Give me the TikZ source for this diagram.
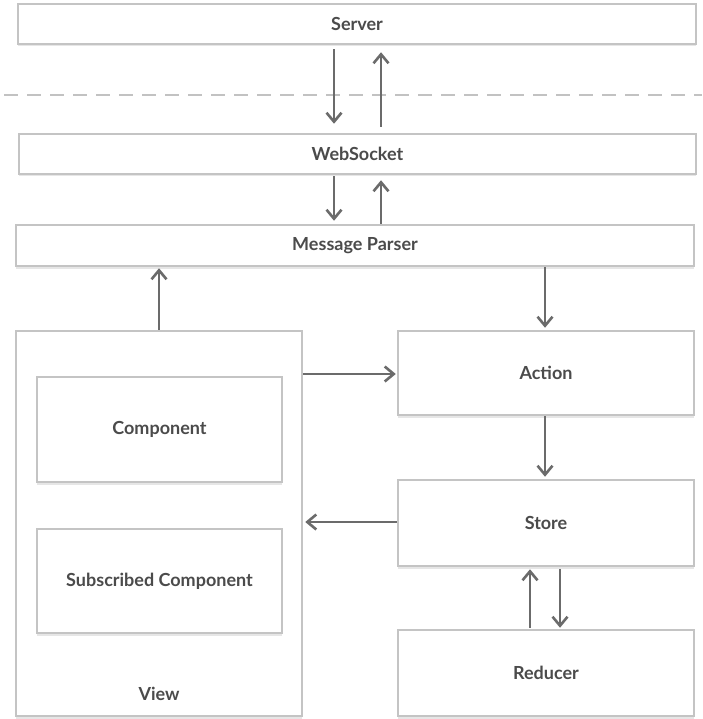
\documentclass[tikz,border=0pt]{standalone}
\usepackage{fontspec}
\setmainfont{Lato}
\usetikzlibrary{arrows.meta,shadows}

\definecolor{boxgray}{HTML}{C4C4C4}
\definecolor{shadowgray}{HTML}{E6E6E6}
\definecolor{arrowgray}{HTML}{6B6B6B}
\definecolor{dashgray}{HTML}{C2C2C2}
\definecolor{textgray}{HTML}{4B4B4B}

\tikzset{
  box/.style={draw=boxgray, line width=2.5pt, fill=white, inner sep=0pt,
    text=textgray, font=\fontsize{18}{21}\selectfont\bfseries,
    general shadow={shadow xshift=0pt, shadow yshift=-2.5pt, fill=shadowgray}},
  plainlabel/.style={inner sep=0pt, text=textgray, font=\fontsize{18}{21}\selectfont\bfseries},
  arr/.style={draw=arrowgray, line width=2.6pt,
    -{Straight Barb[length=9pt,width=15pt,line width=2.6pt]}},
  separator/.style={draw=dashgray, line width=2.5pt, dash pattern=on 14pt off 9pt}
}

\begin{document}
\begin{tikzpicture}[x=1pt,y=-1pt]
  \useasboundingbox[fill=white] (0,0) rectangle (702,719);

  % network boundary
  \draw[separator] (4,95) -- (702,95);

  % top layers
  \node[box, minimum width=678pt, minimum height=40pt] (server) at (357,24) {Server};
  \node[box, minimum width=677pt, minimum height=40pt] (ws) at (357.5,154) {WebSocket};
  \node[box, minimum width=678pt, minimum height=41pt] (mp) at (355,245.5) {Message Parser};

  % view with its components
  \node[box, minimum width=286pt, minimum height=385pt] (view) at (159,523.5) {};
  \node[plainlabel] (viewlabel) at (159,694) {View};
  \node[box, minimum width=245pt, minimum height=105pt] (comp) at (159.5,429.5) {Component};
  \node[box, minimum width=245pt, minimum height=104pt] (subcomp) at (159.5,581) {Subscribed Component};

  % redux side
  \node[box, minimum width=296pt, minimum height=84pt] (action) at (546,373) {Action};
  \node[box, minimum width=296pt, minimum height=86pt] (store) at (546,523) {Store};
  \node[box, minimum width=296pt, minimum height=86pt] (reducer) at (546,673) {Reducer};

  % lanes for the vertical connectors
  \coordinate (laneA) at (334,0);
  \coordinate (laneB) at (381,0);
  \coordinate (laneV) at (159,0);
  \coordinate (laneM) at (545,0);
  \coordinate (laneU) at (530,0);
  \coordinate (laneD) at (560,0);
  \coordinate (rowA) at (0,374);
  \coordinate (rowS) at (0,522);

  % server <-> websocket
  \draw[arr, shorten <=4pt, shorten >=9pt] (server.south -| laneA) -- (ws.north -| laneA);
  \draw[arr, shorten <=6pt, shorten >=7pt] (ws.north -| laneB) -- (server.south -| laneB);

  % websocket <-> message parser
  \draw[arr, shorten <=1pt, shorten >=3pt] (ws.south -| laneA) -- (mp.north -| laneA);
  \draw[arr, shorten >=5pt] (mp.north -| laneB) -- (ws.south -| laneB);

  % view -> message parser -> action
  \draw[arr, shorten >=1pt] (view.north -| laneV) -- (mp.south -| laneV);
  \draw[arr, shorten >=2pt] (mp.south -| laneM) -- (action.north -| laneM);

  % view -> action -> store -> view
  \draw[arr, shorten >=1pt] (view.east |- rowA) -- (action.west |- rowA);
  \draw[arr, shorten >=2pt] (action.south -| laneM) -- (store.north -| laneM);
  \draw[arr, shorten >=2pt] (store.west |- rowS) -- (view.east |- rowS);

  % store <-> reducer
  \draw[arr, shorten <=1pt, shorten >=2pt] (reducer.north -| laneU) -- (store.south -| laneU);
  \draw[arr, shorten <=2pt, shorten >=1pt] (store.south -| laneD) -- (reducer.north -| laneD);
\end{tikzpicture}
\end{document}
